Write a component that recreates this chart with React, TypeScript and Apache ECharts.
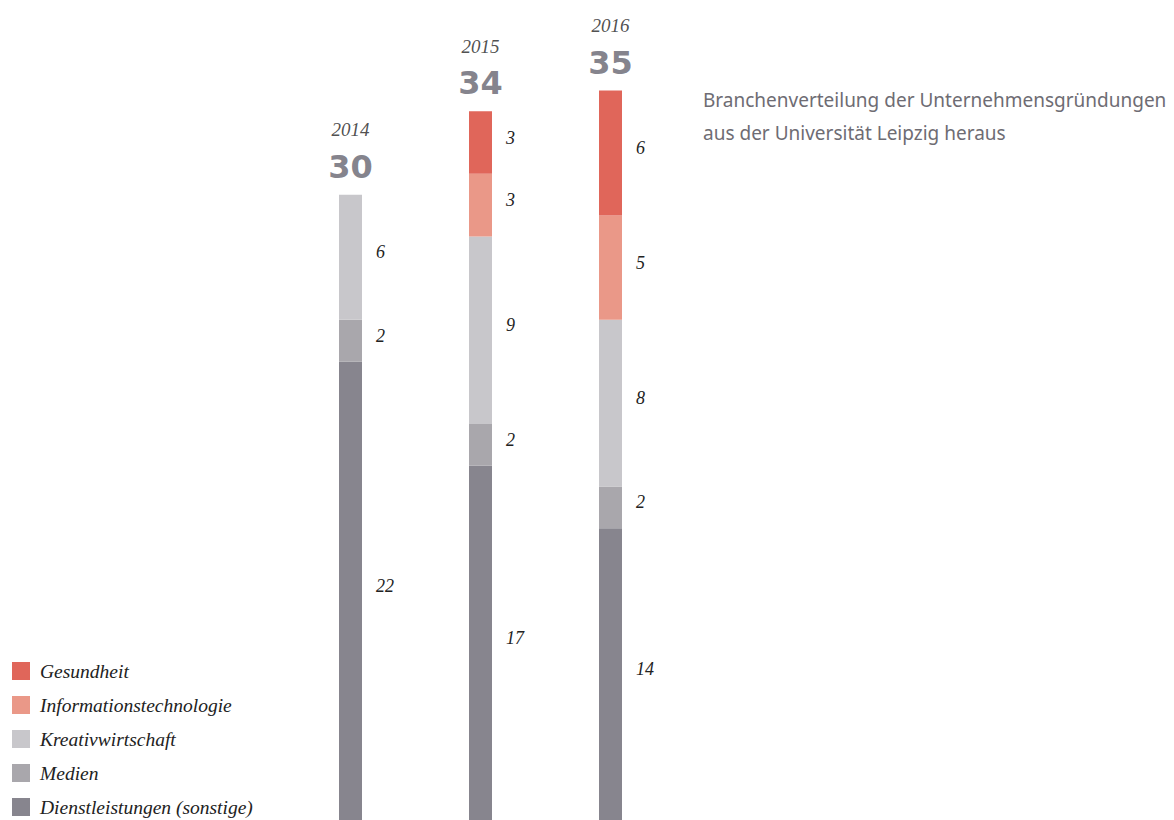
import React, { useEffect, useRef } from "react";
import * as echarts from "echarts";

const years = ["2014", "2015", "2016"];
const dienstleistungen = [22, 17, 14];
const medien = [2, 2, 2];
const kreativ = [6, 9, 8];
const it = [null, 3, 5];
const gesundheit = [null, 3, 6];
const totals = [30, 34, 35];

const seriesNames = [
  "Dienstleistungen (sonstige)",
  "Medien",
  "Kreativwirtschaft",
  "Informationstechnologie",
  "Gesundheit",
];
const seriesValues = [dienstleistungen, medien, kreativ, it, gesundheit];
const seriesColors = ["#87858e", "#a9a7ac", "#c8c7cb", "#ea9888", "#e0665a"];

const serif = "'Liberation Serif', 'Times New Roman', serif";

export default function App() {
  const ref = useRef<HTMLDivElement>(null);
  useEffect(() => {
    const chart = echarts.init(ref.current!, null, { renderer: "svg" });
    const bars = seriesNames.map((name, i) => ({
      name,
      type: "bar",
      stack: "total",
      barWidth: 23,
      itemStyle: { color: seriesColors[i] },
      data: seriesValues[i],
      label: {
        show: true,
        position: "right",
        distance: 14,
        offset: [0, -5],
        fontFamily: serif,
        fontStyle: "italic",
        fontSize: 18,
        color: "#222",
      },
    }));
    chart.setOption({
      animation: false,
      title: {
        text: "Branchenverteilung der Unternehmensgründungen\naus der Universität Leipzig heraus",
        left: 698,
        top: 78,
        textStyle: {
          fontFamily: "'Noto Sans', sans-serif",
          fontWeight: "normal",
          fontSize: 19,
          lineHeight: 33,
          color: "#6e6c73",
        },
      },
      legend: {
        orient: "vertical",
        left: 12,
        top: 661,
        padding: 0,
        height: 200,
        itemWidth: 18,
        itemHeight: 18,
        itemGap: 14,
        icon: "rect",
        data: [...seriesNames].reverse(),
        textStyle: {
          fontFamily: serif,
          fontStyle: "italic",
          fontSize: 19.5,
          color: "#222",
          padding: [0, 0, 0, 5],
        },
      },
      grid: { left: 285.5, width: 390, top: 90.5, bottom: -2 },
      xAxis: {
        type: "category",
        data: years,
        show: false,
      },
      yAxis: { type: "value", min: 0, max: 35, show: false },
      series: [
        ...bars,
        {
          name: "total",
          type: "scatter",
          symbolSize: 0,
          data: totals,
          silent: true,
          label: {
            show: true,
            position: "top",
            distance: 9,
            formatter: (p: any) => `{y|${years[p.dataIndex]}}\n{t|${p.value}}`,
            rich: {
              y: {
                fontFamily: serif,
                fontStyle: "italic",
                fontSize: 19,
                lineHeight: 36,
                color: "#222",
                align: "center",
              },
              t: {
                fontFamily: "'DejaVu Sans', sans-serif",
                fontWeight: "bold",
                fontSize: 32,
                lineHeight: 38,
                color: "#64626e",
                align: "center",
              },
            },
          },
        },
      ],
    });
    return () => chart.dispose();
  }, []);
  return (
    <div
      ref={ref}
      style={{ position: "fixed", left: 0, top: 0, width: 1174, height: 820, background: "#fff" }}
    />
  );
}
